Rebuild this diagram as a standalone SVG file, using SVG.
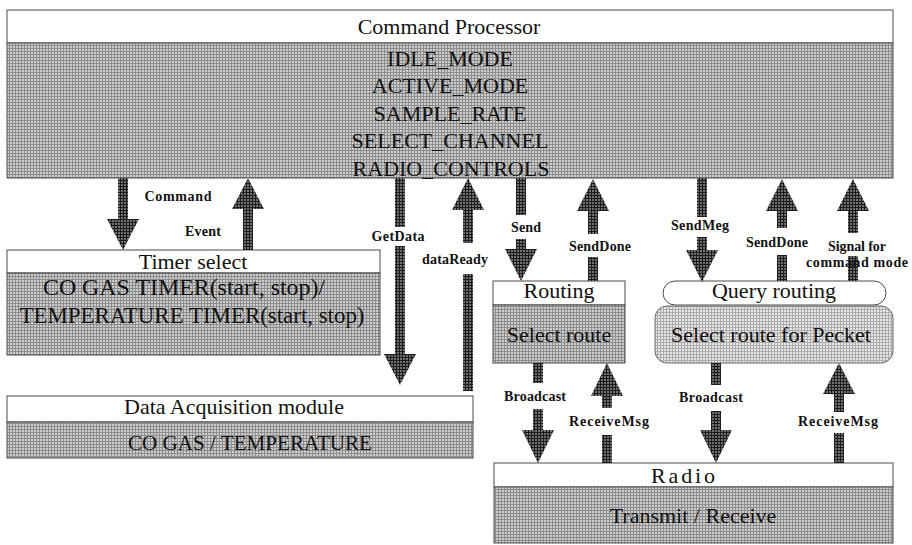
<svg xmlns="http://www.w3.org/2000/svg" width="912" height="545" viewBox="0 0 912 545">
<defs>
<pattern id="bodyPat" width="3" height="3" patternUnits="userSpaceOnUse">
<rect width="3" height="3" fill="#cdcdcd"/>
<rect width="3" height="1" fill="#8c8c8c"/>
<rect width="1" height="3" fill="#8c8c8c"/>
</pattern>
<pattern id="lightPat" width="3" height="3" patternUnits="userSpaceOnUse">
<rect width="3" height="3" fill="#e6e6e6"/>
<rect width="3" height="1" fill="#ababab"/>
<rect width="1" height="3" fill="#ababab"/>
</pattern>
<pattern id="arrowPat" width="3" height="3" patternUnits="userSpaceOnUse">
<rect width="3" height="3" fill="#707070"/>
<rect width="3" height="1" fill="#1c1c1c"/>
<rect width="1" height="3" fill="#1c1c1c"/>
</pattern>
<style>
.hdr{fill:#ffffff;stroke:#4a4a4a;stroke-width:1}
.body{fill:url(#bodyPat);stroke:#4a4a4a;stroke-width:1}
.light{fill:url(#lightPat);stroke:#6a6a6a;stroke-width:1}
.t{font-family:"Liberation Serif","Times New Roman",serif;font-size:22px;fill:#111;text-anchor:middle}
.tb{font-family:"Liberation Serif","Times New Roman",serif;font-size:23px;fill:#111;text-anchor:middle}
.lbl{font-family:"Liberation Serif","Times New Roman",serif;font-size:14px;font-weight:bold;fill:#111;text-anchor:middle}
.arr{fill:url(#arrowPat);stroke:none}
</style>
</defs>
<rect width="912" height="545" fill="#ffffff"/>

<g id="command-processor">
<rect class="hdr" x="7" y="10" width="886" height="33"/>
<rect class="body" x="7" y="43" width="886" height="135"/>
<text class="t" x="449" y="34">Command Processor</text>
<text class="t" x="450" y="66">IDLE_MODE</text>
<text class="t" x="450" y="93">ACTIVE_MODE</text>
<text class="t" x="450" y="121">SAMPLE_RATE</text>
<text class="t" x="450" y="148">SELECT_CHANNEL</text>
<text class="t" x="451" y="176">RADIO_CONTROLS</text>
</g>

<g id="timer-select">
<rect class="hdr" x="7" y="250" width="373" height="23"/>
<rect class="body" x="7" y="273" width="373" height="82"/>
<text class="t" x="193" y="269">Timer select</text>
<text class="tb" x="184" y="295" textLength="282" lengthAdjust="spacingAndGlyphs">CO GAS TIMER(start, stop)/</text>
<text class="tb" x="192" y="323" textLength="345" lengthAdjust="spacingAndGlyphs">TEMPERATURE TIMER(start, stop)</text>
</g>

<g id="data-acquisition">
<rect class="hdr" x="7" y="396" width="466" height="26"/>
<rect class="body" x="7" y="422" width="466" height="36"/>
<text class="t" x="234" y="414">Data Acquisition module</text>
<text class="t" x="250" y="450" textLength="244" lengthAdjust="spacingAndGlyphs">CO GAS / TEMPERATURE</text>
</g>

<g id="routing">
<rect class="hdr" x="493" y="281" width="132" height="24"/>
<rect class="body" x="493" y="305" width="132" height="58"/>
<text class="t" x="559" y="298">Routing</text>
<text class="t" x="559" y="342">Select route</text>
</g>

<g id="query-routing">
<rect class="hdr" x="663" y="281" width="223" height="24" rx="12" ry="12"/>
<rect class="light" x="655" y="306" width="238" height="57" rx="12" ry="12"/>
<text class="t" x="774" y="298">Query routing</text>
<text class="t" x="771" y="342">Select route for Pecket</text>
</g>

<g id="radio">
<rect class="hdr" x="494" y="463" width="399" height="24"/>
<rect class="body" x="494" y="487" width="399" height="56"/>
<text class="t" x="683" y="483" textLength="64" lengthAdjust="spacing">Radio</text>
<text class="t" x="693" y="523">Transmit / Receive</text>
</g>

<g id="connectors">
<!-- Command (down) -->
<g class="arr">
<rect x="118" y="178" width="10" height="41"/>
<polygon points="107,219 139,219 123,250"/>
</g>
<text class="lbl" x="178" y="201" textLength="67" lengthAdjust="spacing">Command</text>
<!-- Event (up) -->
<g class="arr">
<polygon points="248,178 264,209 232,209"/>
<rect x="243" y="209" width="10" height="41"/>
</g>
<text class="lbl" x="203" y="236" textLength="36" lengthAdjust="spacing">Event</text>
<!-- GetData (down) -->
<g class="arr">
<rect x="395" y="178" width="10" height="49"/>
<rect x="395" y="246" width="10" height="108"/>
<polygon points="384,354 416,354 400,385"/>
</g>
<text class="lbl" x="398" y="241" textLength="53" lengthAdjust="spacing">GetData</text>
<!-- dataReady (up) -->
<g class="arr">
<polygon points="468,178 484,210 452,210"/>
<rect x="463" y="210" width="10" height="33"/>
<rect x="463" y="274" width="10" height="117"/>
</g>
<text class="lbl" x="455" y="264" textLength="66" lengthAdjust="spacing">dataReady</text>
<!-- Send (down) -->
<g class="arr">
<rect x="516" y="178" width="10" height="37"/>
<rect x="516" y="239" width="10" height="10"/>
<polygon points="505,249 537,249 521,281"/>
</g>
<text class="lbl" x="526" y="232" textLength="30" lengthAdjust="spacing">Send</text>
<!-- SendDone (up) routing -->
<g class="arr">
<polygon points="593,179 609,211 577,211"/>
<rect x="588" y="211" width="10" height="23"/>
<rect x="588" y="257" width="10" height="24"/>
</g>
<text class="lbl" x="600" y="251" textLength="62" lengthAdjust="spacing">SendDone</text>
<!-- SendMeg (down) -->
<g class="arr">
<rect x="697" y="178" width="10" height="39"/>
<rect x="697" y="237" width="10" height="13"/>
<polygon points="686,250 718,250 702,282"/>
</g>
<text class="lbl" x="700" y="230" textLength="58" lengthAdjust="spacing">SendMeg</text>
<!-- SendDone (up) query -->
<g class="arr">
<polygon points="782,179 798,211 766,211"/>
<rect x="777" y="211" width="10" height="17"/>
<rect x="777" y="255" width="10" height="26"/>
</g>
<text class="lbl" x="777" y="247" textLength="62" lengthAdjust="spacing">SendDone</text>
<!-- Signal for command mode (up) -->
<g class="arr">
<polygon points="853,179 869,211 837,211"/>
<rect x="848" y="211" width="10" height="22"/>
<rect x="848" y="256" width="10" height="25"/>
</g>
<text class="lbl" x="857" y="251" textLength="58" lengthAdjust="spacing">Signal for</text>
<text class="lbl" x="857" y="267" textLength="102" lengthAdjust="spacing">command mode</text>
<!-- Broadcast (down) routing -->
<g class="arr">
<rect x="533" y="363" width="10" height="20"/>
<rect x="533" y="409" width="10" height="21"/>
<polygon points="522,430 554,430 538,463"/>
</g>
<text class="lbl" x="535" y="401" textLength="62" lengthAdjust="spacing">Broadcast</text>
<!-- ReceiveMsg (up) routing -->
<g class="arr">
<polygon points="607,363 623,396 591,396"/>
<rect x="602" y="396" width="10" height="12"/>
<rect x="602" y="435" width="10" height="28"/>
</g>
<text class="lbl" x="609" y="426" textLength="80" lengthAdjust="spacing">ReceiveMsg</text>
<!-- Broadcast (down) query -->
<g class="arr">
<rect x="711" y="363" width="10" height="22"/>
<rect x="711" y="411" width="10" height="19"/>
<polygon points="700,430 732,430 716,463"/>
</g>
<text class="lbl" x="711" y="402" textLength="64" lengthAdjust="spacing">Broadcast</text>
<!-- ReceiveMsg (up) query -->
<g class="arr">
<polygon points="839,363 855,394 823,394"/>
<rect x="834" y="394" width="10" height="18"/>
<rect x="834" y="433" width="10" height="30"/>
</g>
<text class="lbl" x="838" y="426" textLength="80" lengthAdjust="spacing">ReceiveMsg</text>
</g>
</svg>
